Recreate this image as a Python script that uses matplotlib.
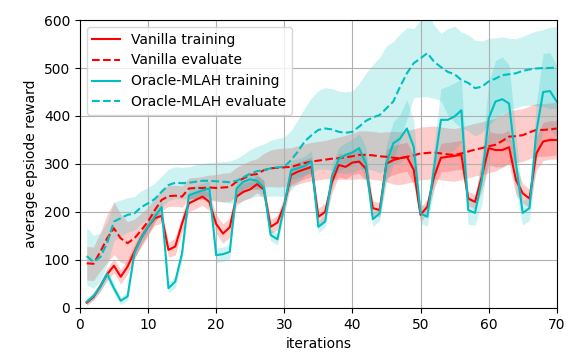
import numpy as np
import matplotlib
matplotlib.use('Agg')
import matplotlib.pyplot as plt

iterations = np.arange(1, 71)

vanilla_train = [11, 23, 45, 70, 88, 65, 86, 117, 146, 169,
                 187, 192, 121, 128, 176, 218, 225, 232, 221, 175,
                 155, 168, 232, 242, 247, 258, 247, 169, 178, 215,
                 277, 284, 289, 294, 190, 200, 262, 298, 294, 303,
                 305, 290, 208, 204, 301, 308, 312, 315, 288, 194,
                 211, 274, 313, 315, 317, 319, 228, 221, 274, 333,
                 329, 329, 335, 267, 239, 228, 322, 347, 350, 350]
vanilla_train_std = [5, 6, 10, 12, 15, 15, 15, 15, 15, 15,
                     15, 15, 15, 18, 18, 18, 18, 18, 18, 20,
                     20, 20, 18, 18, 18, 18, 18, 15, 15, 18,
                     20, 20, 20, 20, 18, 18, 22, 25, 25, 25,
                     25, 25, 15, 15, 30, 30, 30, 30, 30, 15,
                     15, 25, 30, 30, 30, 30, 15, 15, 30, 35,
                     35, 35, 35, 30, 20, 20, 35, 40, 40, 40]

vanilla_eval = [93, 92, 117, 145, 166, 145, 135, 145, 162, 180,
                204, 225, 233, 234, 232, 249, 250, 250, 251, 250,
                251, 252, 263, 270, 277, 279, 287, 291, 292, 293,
                294, 298, 302, 305, 307, 309, 311, 312, 314, 316,
                319, 319, 318, 316, 315, 313, 312, 315, 318, 322,
                323, 324, 322, 320, 319, 322, 326, 330, 333, 337,
                340, 348, 357, 358, 360, 366, 371, 371, 372, 374]
vanilla_eval_std = [35, 35, 40, 50, 55, 50, 45, 40, 35, 30,
                    25, 22, 22, 22, 22, 22, 22, 24, 26, 28,
                    30, 30, 30, 30, 30, 32, 35, 38, 40, 40,
                    40, 40, 40, 40, 40, 40, 42, 44, 46, 48,
                    50, 50, 50, 50, 52, 55, 55, 55, 55, 55,
                    55, 55, 55, 55, 55, 55, 55, 55, 55, 55,
                    55, 55, 55, 55, 55, 55, 55, 55, 55, 55]

oracle_train = [13, 25, 44, 71, 41, 15, 24, 114, 146, 169,
                190, 210, 41, 55, 114, 235, 240, 245, 249, 110,
                112, 117, 249, 263, 268, 265, 251, 152, 143, 213,
                287, 291, 296, 305, 169, 180, 275, 310, 319, 324,
                333, 300, 185, 197, 301, 343, 353, 374, 336, 197,
                190, 294, 392, 392, 399, 412, 204, 198, 267, 395,
                430, 435, 426, 302, 198, 208, 367, 450, 452, 430]
oracle_train_std = [8, 8, 10, 12, 10, 8, 8, 12, 12, 12,
                    12, 12, 10, 12, 15, 15, 15, 15, 15, 15,
                    15, 15, 15, 15, 15, 15, 15, 12, 12, 15,
                    20, 20, 20, 22, 12, 12, 25, 25, 25, 28,
                    30, 35, 15, 15, 40, 45, 50, 60, 55, 20,
                    20, 45, 65, 70, 70, 65, 30, 25, 50, 75,
                    85, 88, 80, 60, 25, 25, 60, 80, 80, 75]

oracle_eval = [108, 96, 106, 135, 180, 187, 194, 197, 210, 218,
               227, 242, 256, 261, 260, 261, 263, 265, 265, 264,
               263, 262, 265, 272, 280, 285, 287, 291, 293, 294,
               308, 326, 347, 360, 371, 374, 372, 367, 365, 367,
               378, 390, 397, 402, 416, 430, 461, 489, 510, 520,
               531, 513, 502, 492, 487, 475, 469, 458, 461, 472,
               478, 485, 487, 489, 494, 497, 499, 500, 500, 501]
oracle_eval_std = [60, 55, 50, 45, 40, 38, 36, 35, 34, 33,
                   33, 33, 33, 33, 33, 33, 35, 36, 38, 40,
                   42, 44, 46, 48, 50, 52, 55, 58, 60, 62,
                   62, 66, 70, 78, 82, 85, 85, 85, 85, 85,
                   90, 100, 110, 120, 130, 125, 110, 95, 72, 80,
                   91, 76, 70, 90, 100, 100, 100, 100, 95, 90,
                   85, 80, 75, 72, 72, 75, 78, 80, 85, 85]

series = [
    ('Vanilla training', vanilla_train, vanilla_train_std, 'r', '-'),
    ('Vanilla evaluate', vanilla_eval, vanilla_eval_std, 'r', '--'),
    ('Oracle-MLAH training', oracle_train, oracle_train_std, 'c', '-'),
    ('Oracle-MLAH evaluate', oracle_eval, oracle_eval_std, 'c', '--'),
]

fig = plt.figure(figsize=(5.83, 3.64), dpi=100)
ax = fig.add_axes([0.137, 0.154, 0.818, 0.791])

for label, mean, std, color, ls in series:
    mean = np.array(mean, dtype=float)
    std = np.array(std, dtype=float)
    ax.plot(iterations, mean, color=color, linestyle=ls, linewidth=1.5, label=label)
    ax.fill_between(iterations, mean - std, mean + std, color=color, alpha=0.2, linewidth=0)

ax.set_xlim(0, 70)
ax.set_ylim(0, 600)
ax.set_xticks(range(0, 71, 10))
ax.set_yticks(range(0, 601, 100))
ax.grid(True)
ax.set_xlabel('iterations')
ax.set_ylabel('average epsiode reward')
ax.legend(loc='upper left')

fig.savefig('out.png', dpi=100)
